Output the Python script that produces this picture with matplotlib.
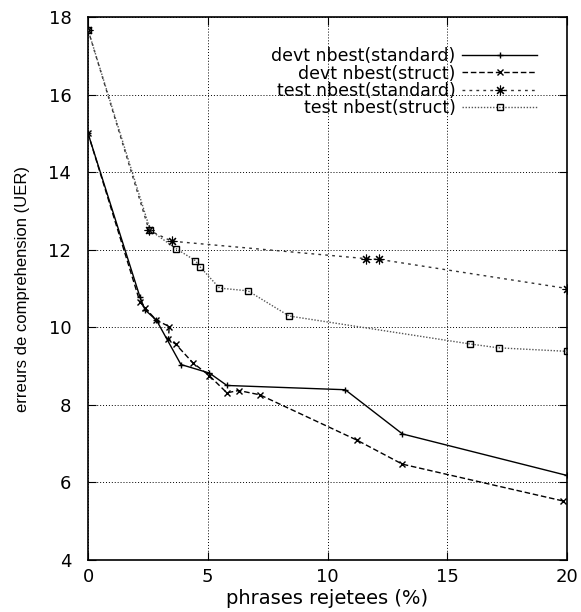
import matplotlib.pyplot as plt
from matplotlib.patches import Rectangle

plt.rcParams['font.family'] = ['DejaVu Sans']

# devt nbest (standard)
devt_std_x = [0, 2.17, 2.38, 2.86, 3.88, 5.07, 5.80, 10.74, 13.13, 20.0]
devt_std_y = [15.0, 10.78, 10.45, 10.18, 9.04, 8.82, 8.50, 8.39, 7.25, 6.18]

# devt nbest (struct)
devt_str_x = [0, 2.17, 2.38, 2.86, 3.39, 3.36, 3.67, 4.37, 5.07, 5.80, 6.29, 7.17, 11.23, 13.13, 19.85]
devt_str_y = [15.0, 10.65, 10.50, 10.18, 10.02, 9.70, 9.56, 9.09, 8.75, 8.31, 8.37, 8.26, 7.09, 6.47, 5.52]

# test nbest (standard)
test_std_x = [0, 2.55, 3.49, 11.61, 12.17, 20.0]
test_std_y = [17.67, 12.50, 12.22, 11.77, 11.75, 11.0]

# test nbest (struct)
test_str_x = [0, 2.60, 3.67, 4.48, 4.69, 5.49, 6.68, 8.40, 15.95, 17.14, 20.0]
test_str_y = [17.67, 12.50, 12.03, 11.72, 11.55, 11.01, 10.94, 10.29, 9.57, 9.47, 9.38]

fig = plt.figure(figsize=(5.81, 6.12), dpi=100)
ax = fig.add_axes([88/581, 52/612, 479/581, 543/612])

ax.plot(devt_std_x, devt_std_y, color='black', lw=1.0, ls='-', marker='+', ms=5, mew=1.0,
        label='devt nbest(standard)', zorder=3)
ax.plot(devt_str_x, devt_str_y, color='black', lw=1.0, ls=(0, (4, 2)), marker='x', ms=4.5, mew=1.0,
        label='devt nbest(struct)', zorder=3)
ax.plot(test_std_x, test_std_y, color='#333333', lw=1.0, ls=(0, (2, 3)), marker=(8, 2, 0), ms=7, mew=0.8,
        mec='black', label='test nbest(standard)', zorder=3)
ax.plot(test_str_x, test_str_y, color='#555555', lw=1.0, ls=(0, (1, 1.2)), marker='s', ms=5, mew=1.0,
        mfc='none', mec='black', label='test nbest(struct)', zorder=3)

# white key box hiding the grid, like gnuplot
ax.add_patch(Rectangle((0.157, 0.82), 0.814, 0.128, transform=ax.transAxes,
                       facecolor='white', edgecolor='none', zorder=1))

ax.set_xlim(0, 20)
ax.set_ylim(4, 18)
ax.set_xticks([0, 5, 10, 15, 20])
ax.set_yticks([4, 6, 8, 10, 12, 14, 16, 18])
ax.grid(True, ls=(0, (1, 2)), color='black', lw=0.7)
ax.tick_params(direction='in', top=True, right=True, labelsize=13, length=6)
ax.tick_params(axis='y', pad=12)
ax.tick_params(axis='x', pad=6)
for s in ax.spines.values():
    s.set_linewidth(1.2)

ax.set_xlabel('phrases rejetees (%)', fontsize=14, labelpad=2)
ax.set_ylabel('erreurs de comprehension (UER)', fontsize=12, family='Liberation Sans')
ax.yaxis.set_label_coords(-0.121, 0.5)

leg = ax.legend(loc='upper right', bbox_to_anchor=(0.9374, 0.944), markerfirst=False, frameon=False,
                fontsize=12.5, handlelength=4.3, handletextpad=0.4, labelspacing=-0.05,
                borderpad=0, borderaxespad=0)
for t in leg.get_texts():
    t.set_ha('right')

fig.savefig('out.png', dpi=100)
